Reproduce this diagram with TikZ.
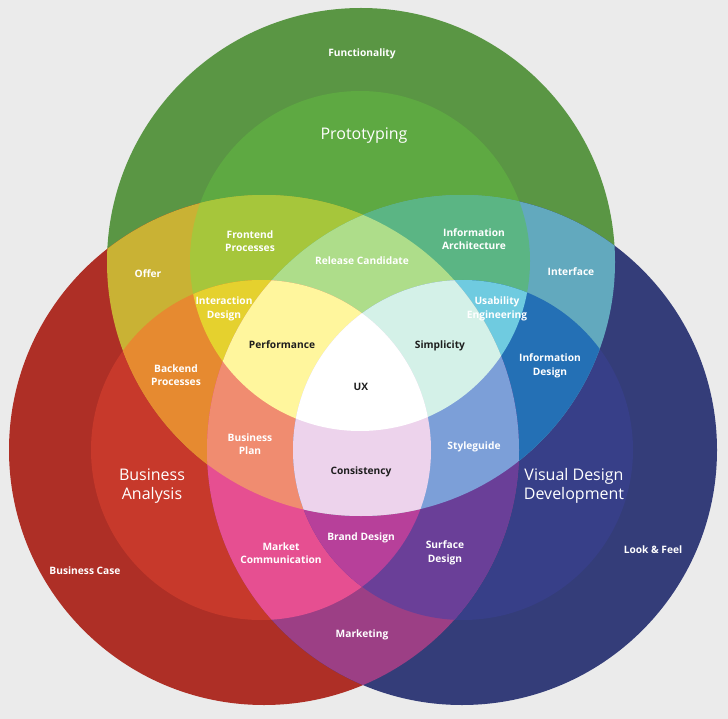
\documentclass[tikz,border=0pt]{standalone}
\usepackage{fontspec}
\setmainfont{Open Sans}
\definecolor{bg}{RGB}{235,235,235}
\definecolor{cG}{RGB}{90,150,68}
\definecolor{cGm}{RGB}{94,169,66}
\definecolor{cR}{RGB}{174,47,38}
\definecolor{cRm}{RGB}{199,57,43}
\definecolor{cB}{RGB}{52,61,121}
\definecolor{cBm}{RGB}{55,63,136}
\definecolor{cGR}{RGB}{201,178,52}
\definecolor{cGB}{RGB}{98,169,190}
\definecolor{cRB}{RGB}{156,63,133}
\definecolor{cGmR}{RGB}{166,198,59}
\definecolor{cGmB}{RGB}{91,181,132}
\definecolor{cRmG}{RGB}{230,138,48}
\definecolor{cRmB}{RGB}{230,79,145}
\definecolor{cBmG}{RGB}{36,112,181}
\definecolor{cBmR}{RGB}{106,63,152}
\definecolor{cGmRm}{RGB}{229,209,46}
\definecolor{cGmBm}{RGB}{111,203,224}
\definecolor{cRmBm}{RGB}{183,64,154}
\definecolor{cGmRB}{RGB}{174,221,138}
\definecolor{cRmGB}{RGB}{240,140,112}
\definecolor{cBmGR}{RGB}{124,159,216}
\definecolor{cPerf}{RGB}{255,246,157}
\definecolor{cSimp}{RGB}{212,241,232}
\definecolor{cCons}{RGB}{237,211,236}
\definecolor{txtdark}{RGB}{30,30,30}
\def\CG{(361,262) circle [radius=254pt]}
\def\CR{(264,450) circle [radius=255pt]}
\def\CB{(462,450) circle [radius=255pt]}
\def\CGm{(360,261) circle [radius=170pt]}
\def\CRm{(261,450) circle [radius=170pt]}
\def\CBm{(463,450) circle [radius=170pt]}
\tikzset{
  lbl/.style={text=white, font=\fontsize{10.2}{13.5}\selectfont\bfseries, align=center, inner sep=0pt},
  lbldark/.style={text=txtdark, font=\fontsize{10.2}{13.5}\selectfont\bfseries, align=center, inner sep=0pt},
  biglbl/.style={text=white, font=\fontsize{16}{19}\selectfont, align=center, inner sep=0pt}
}
\begin{document}
\begin{tikzpicture}[x=1pt,y=-1pt]
\useasboundingbox[fill=bg] (0,0) rectangle (728,719);
% single circles
\fill[cG] \CG; \fill[cR] \CR; \fill[cB] \CB;
\fill[cGm] \CGm; \fill[cRm] \CRm; \fill[cBm] \CBm;
% pairs of big circles
\begin{scope}\clip \CG; \fill[cGR] \CR; \fill[cGB] \CB; \end{scope}
\begin{scope}\clip \CR; \fill[cRB] \CB; \end{scope}
% medium with one other big
\begin{scope}\clip \CGm; \fill[cGmR] \CR; \fill[cGmB] \CB; \end{scope}
\begin{scope}\clip \CRm; \fill[cRmG] \CG; \fill[cRmB] \CB; \end{scope}
\begin{scope}\clip \CBm; \fill[cBmG] \CG; \fill[cBmR] \CR; \end{scope}
% two mediums
\begin{scope}\clip \CGm; \fill[cGmRm] \CRm; \fill[cGmBm] \CBm; \end{scope}
\begin{scope}\clip \CRm; \fill[cRmBm] \CBm; \end{scope}
% one medium with all bigs
\begin{scope}\clip \CGm; \clip \CR; \fill[cGmRB] \CB; \end{scope}
\begin{scope}\clip \CRm; \clip \CG; \fill[cRmGB] \CB; \end{scope}
\begin{scope}\clip \CBm; \clip \CG; \fill[cBmGR] \CR; \end{scope}
% two mediums with all bigs
\begin{scope}\clip \CGm; \clip \CRm; \fill[cPerf] \CB; \end{scope}
\begin{scope}\clip \CGm; \clip \CBm; \fill[cSimp] \CR; \end{scope}
\begin{scope}\clip \CRm; \clip \CBm; \fill[cCons] \CG; \end{scope}
% all
\begin{scope}\clip \CGm; \clip \CRm; \fill[white] \CBm; \end{scope}
% labels
\node[lbl] (func) at (362,54) {Functionality};
\node[biglbl] (proto) at (364,136) {Prototyping};
\node[lbl] (front) at (250,241) {Frontend\\Processes};
\node[lbl] (infoarch) at (474,239) {Information\\Architecture};
\node[lbl] (offer) at (148,274) {Offer};
\node[lbl] (iface) at (571,272) {Interface};
\node[lbl] (relc) at (362,261) {Release Candidate};
\node[lbl] (inter) at (224,309) {Interaction\\Design};
\node[lbl] (usab) at (497,309) {Usability\\Engineering};
\node[lbldark] (perf) at (282,345) {Performance};
\node[lbldark] (simp) at (440,346) {Simplicity};
\node[lbl] (back) at (176,375) {Backend\\Processes};
\node[lbl] (infodes) at (550,366) {Information\\Design};
\node[lbldark] (ux) at (361,387) {UX};
\node[lbl] (bplan) at (250,444) {Business\\Plan};
\node[lbl] (style) at (474,447) {Styleguide};
\node[lbldark] (cons) at (361,472) {Consistency};
\node[biglbl] (ba) at (152,486) {Business\\Analysis};
\node[biglbl] (vdd) at (574,486) {Visual Design\\Development};
\node[lbl] (brand) at (361,538) {Brand Design};
\node[lbl] (mcomm) at (281,553) {Market\\Communication};
\node[lbl] (surf) at (445,553) {Surface\\Design};
\node[lbl] (bcase) at (85,571) {Business Case};
\node[lbl] (look) at (653,550) {Look \& Feel};
\node[lbl] (mkt) at (362,635) {Marketing};
\end{tikzpicture}
\end{document}
